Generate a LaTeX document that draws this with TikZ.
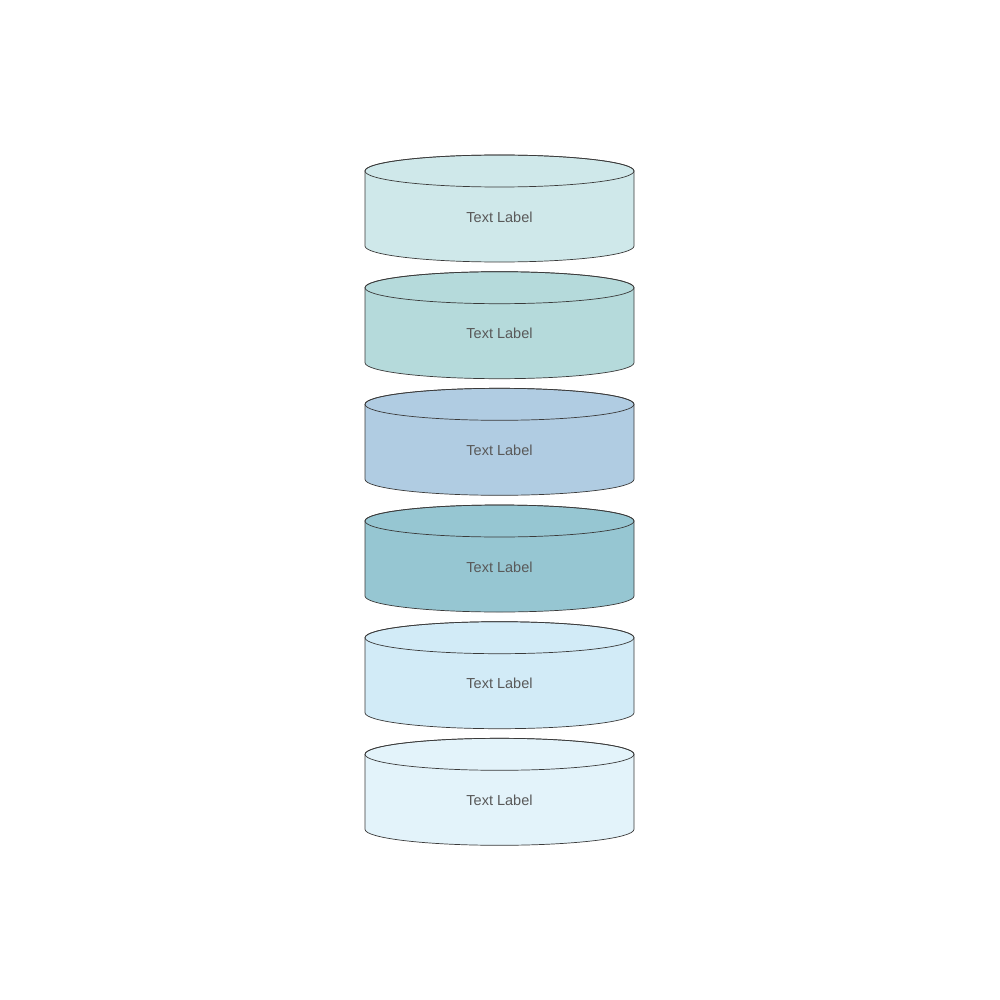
\documentclass[tikz,border=0pt]{standalone}
\usepackage{fontspec}
\setmainfont{Liberation Sans}
\definecolor{c1}{HTML}{CFE8EA}
\definecolor{c2}{HTML}{B5DADB}
\definecolor{c3}{HTML}{B0CCE2}
\definecolor{c4}{HTML}{96C6D2}
\definecolor{c5}{HTML}{D2EBF7}
\definecolor{c6}{HTML}{E3F3FA}
\definecolor{edge}{HTML}{3A3A3A}
\definecolor{txt}{HTML}{595959}
\tikzset{
  cylline/.style={draw=edge, line width=0.7pt},
  lbl/.style={font=\fontsize{14.5}{17}\selectfont, text=txt, inner sep=0pt}
}
\begin{document}
\begin{tikzpicture}[x=1pt,y=-1pt]
\useasboundingbox[fill=white] (0,0) rectangle (1000,1000);
\foreach \i/\c/\yc in {1/c1/171,2/c2/287.7,3/c3/404.3,4/c4/521,5/c5/637.7,6/c6/754.3}{
  \path[cylline, fill=\c] (365,\yc) -- ++(0,75) arc[start angle=180, end angle=0, x radius=134.5, y radius=16] -- ++(0,-75) arc[start angle=0, end angle=-180, x radius=134.5, y radius=16] -- cycle;
  \draw[cylline] (499.5,\yc) ellipse[x radius=134.5, y radius=16];
  \node[lbl] (t\i) at (499.5,\yc+46) {Text Label};
}
\end{tikzpicture}
\end{document}
